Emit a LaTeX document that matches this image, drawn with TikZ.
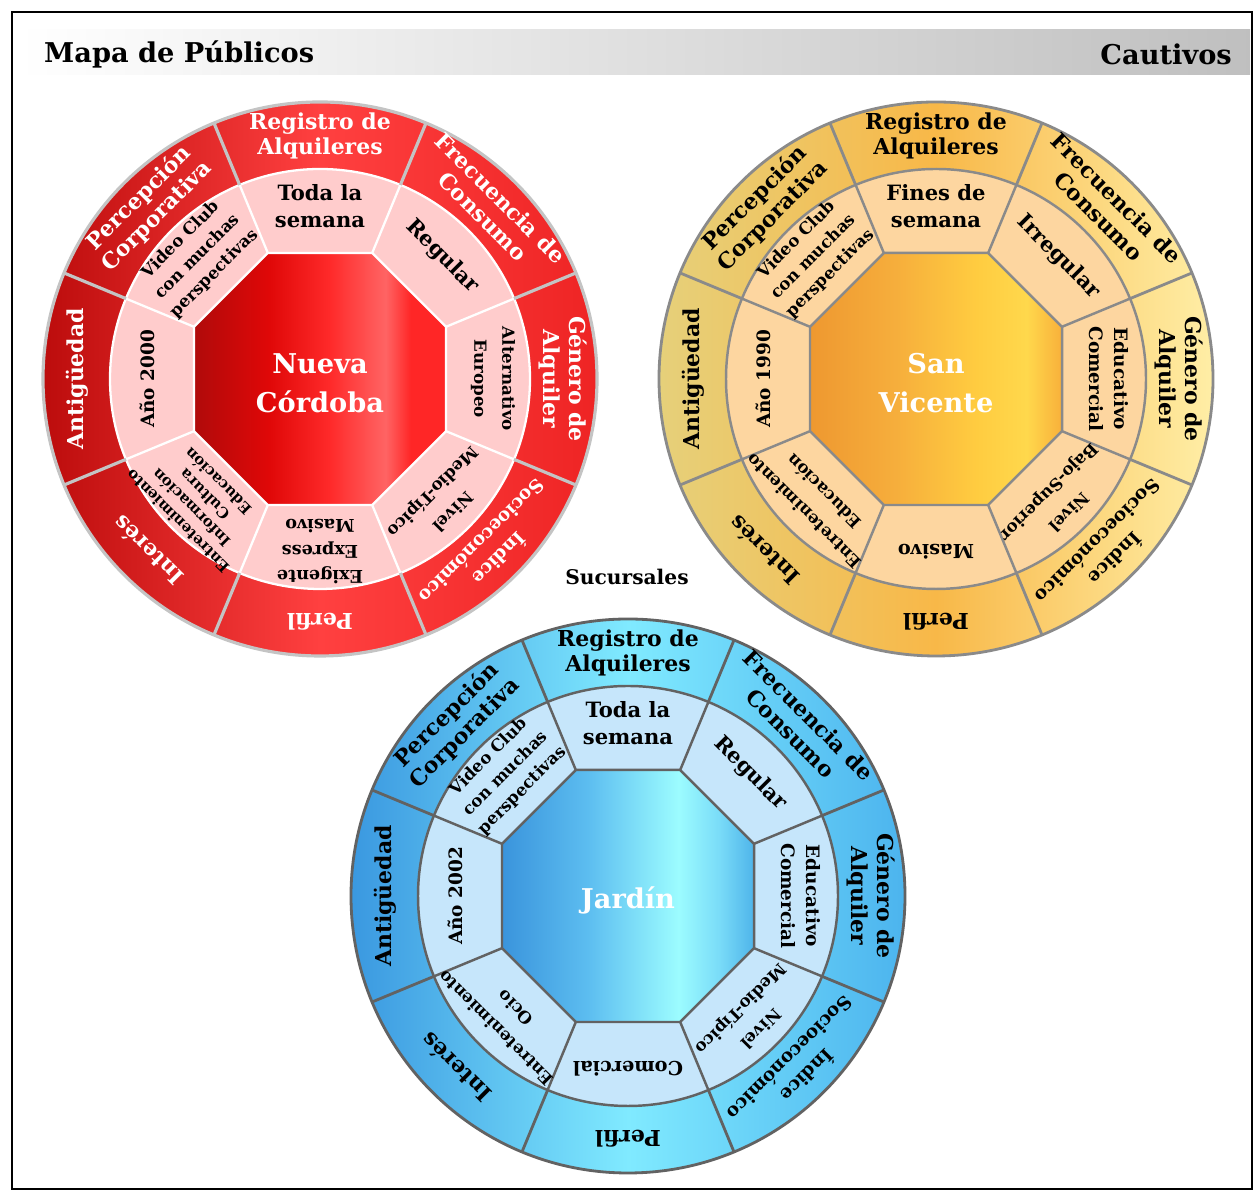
\documentclass[tikz,border=0pt]{standalone}
\usepackage{fontspec}
\setmainfont{DejaVu Serif}

\definecolor{rojoA}{HTML}{BC0C0C}
\definecolor{rojoB}{HTML}{FF4040}
\definecolor{rojoC}{HTML}{EE2424}
\definecolor{rosa}{HTML}{FFCCCC}
\definecolor{grisclaro}{HTML}{C4C4C4}
\definecolor{naranjaA}{HTML}{E6D07A}
\definecolor{naranjaB}{HTML}{F8B848}
\definecolor{naranjaC}{HTML}{FFEEA6}
\definecolor{durazno}{HTML}{FDD6A0}
\definecolor{grismed}{HTML}{8A8A8A}
\definecolor{azulA}{HTML}{3A98E0}
\definecolor{azulB}{HTML}{80EAFF}
\definecolor{azulC}{HTML}{4CB4EE}
\definecolor{celeste}{HTML}{C6E6FB}
\definecolor{grisosc}{HTML}{626262}
\definecolor{orojoA}{HTML}{B00A0A}
\definecolor{orojoB}{HTML}{E00808}
\definecolor{orojoC}{HTML}{FF2A2A}
\definecolor{orojoD}{HTML}{FF6464}
\definecolor{orojoE}{HTML}{FF2626}
\definecolor{onarA}{HTML}{EE9830}
\definecolor{onarB}{HTML}{F6AE3C}
\definecolor{onarC}{HTML}{FFCC40}
\definecolor{onarD}{HTML}{FFD84C}
\definecolor{onarE}{HTML}{F8B03A}
\definecolor{oazuA}{HTML}{3A94DC}
\definecolor{oazuB}{HTML}{5CBDF0}
\definecolor{oazuC}{HTML}{9CFCFF}
\definecolor{oazuD}{HTML}{7ADCF8}
\definecolor{oazuE}{HTML}{4EB4EA}

\pgfdeclarehorizontalshading{octrojo}{100bp}{color(0bp)=(orojoA); color(25bp)=(orojoA); color(40bp)=(orojoB); color(52bp)=(orojoC); color(63bp)=(orojoD); color(68bp)=(orojoE); color(100bp)=(orojoE)}
\pgfdeclarehorizontalshading{octnaranja}{100bp}{color(0bp)=(onarA); color(25bp)=(onarA); color(42bp)=(onarB); color(58bp)=(onarC); color(68bp)=(onarD); color(75bp)=(onarE); color(100bp)=(onarE)}
\pgfdeclarehorizontalshading{octazul}{100bp}{color(0bp)=(oazuA); color(25bp)=(oazuA); color(42bp)=(oazuB); color(60bp)=(oazuC); color(68bp)=(oazuD); color(75bp)=(oazuE); color(100bp)=(oazuE)}

\tikzset{
	txtext/.style={align=center, inner sep=0pt},
	txtmed/.style={align=center, inner sep=0pt, text=black},
	t85/.style={font=\bfseries\fontsize{8.5}{10.8}\selectfont},
	t95/.style={font=\bfseries\fontsize{9.5}{13.5}\selectfont},
	t95w/.style={font=\bfseries\fontsize{9.5}{16}\selectfont},
	t10/.style={font=\bfseries\fontsize{10}{13.5}\selectfont},
	t10x/.style={font=\bfseries\fontsize{10}{14.5}\selectfont},
	t105/.style={font=\bfseries\fontsize{10.5}{14}\selectfont},
	t11/.style={font=\bfseries\fontsize{11}{14}\selectfont},
	t12/.style={font=\bfseries\fontsize{12}{15}\selectfont},
	t125/.style={font=\bfseries\fontsize{12.5}{14.5}\selectfont},
	centro/.style={align=center, text=white, font=\bfseries\fontsize{15.5}{22}\selectfont},
}

\newcommand{\exteriores}{90/t125/{Registro de\\Alquileres}, 45/t125/{Frecuencia de\\Consumo}, 0/t125/{Género de\\Alquiler}, -45/t105/{Índice\\Socioeconómico}, -90/t125/Perfil, -135/t125/Interés, 180/t125/Antigüedad, 135/t125/{Percepción\\Corporativa}}

% one wheel: #1 name, #2 centre text, #3 middle ring labels
\newcommand{\rueda}[3]{%
	\shade[anillo] (0,0) circle (277);
	\fill[medio] (0,0) circle (210);
	\shade[nucleo] (22.5:136.4) \foreach \k in {1,...,7}{ -- ({22.5+45*\k}:136.4)} -- cycle;
	\draw[lineamed] (22.5:136.4) \foreach \k in {1,...,7}{ -- ({22.5+45*\k}:136.4)} -- cycle;
	\draw[lineamed] (0,0) circle (210);
	\foreach \a in {22.5,67.5,...,337.5} {
		\draw[lineamed] (\a:136.4) -- (\a:210);
		\draw[lineaext] (\a:210) -- (\a:277);
	}
	\draw[lineaext] (0,0) circle (277);
	\foreach \a/\tam/\txt [count=\i] in \exteriores
		\node[txtext, \tam, rotate=\a-90] (#1-ext-\i) at (\a:243) {\txt};
	\foreach \a/\tam/\txt [count=\i] in {#3}
		\node[txtmed, \tam, rotate=\a-90] (#1-med-\i) at (\a:173) {\txt};
	\node[centro] (#1-centro) at (0,-4) {#2};
}

\begin{document}
\begin{tikzpicture}[x=0.02cm, y=0.02cm]
	\useasboundingbox (0,0) rectangle (1258,1192);
	\fill[white] (0,0) rectangle (1258,1192);
	\draw[line width=1.2pt] (12,3) rectangle (1252,1180);
	\shade[left color=white, right color=black!25] (18,1117) rectangle (1250,1162);
	\node[anchor=west, font=\bfseries\fontsize{15.5}{18}\selectfont] (titulo) at (38,1138) {Mapa de Públicos};
	\node[anchor=east, font=\bfseries\fontsize{15.5}{18}\selectfont] (cautivos) at (1238,1138) {Cautivos};
	\node[font=\bfseries\fontsize{11.5}{14}\selectfont] (sucursales) at (627,615) {Sucursales};

	% Nueva Cordoba
	\begin{scope}[shift={(320,813)},
		anillo/.style={left color=rojoA, right color=rojoC, middle color=rojoB},
		medio/.style={fill=rosa},
		nucleo/.style={shading=octrojo},
		lineamed/.style={draw=white, line width=1.3pt},
		lineaext/.style={draw=grisclaro, line width=1.8pt},
		txtext/.append style={text=white}]
		\rueda{rojo}{Nueva\\Córdoba}{90/t12/{Toda la\\semana}, 45/t12/Regular, 0/t95w/{Alternativo\\Europeo}, -45/t95w/{Nivel\\Medio-Típico}, -90/t10x/{Exigente\\Express\\Masivo}, -135/t85/{Entretenimiento\\Información\\Cultura\\Educación}, 180/t105/{Año 2000}, 135/t95/{Video Club\\con muchas\\perspectivas}}
	\end{scope}

	% San Vicente
	\begin{scope}[shift={(936,813)},
		anillo/.style={left color=naranjaA, right color=naranjaC, middle color=naranjaB},
		medio/.style={fill=durazno},
		nucleo/.style={shading=octnaranja},
		lineamed/.style={draw=grismed, line width=1.4pt},
		lineaext/.style={draw=grismed, line width=1.6pt},
		txtext/.append style={text=black}]
		\rueda{naranja}{San\\Vicente}{90/t12/{Fines de\\semana}, 45/t12/Irregular, 0/t105/{Educativo\\Comercial}, -45/t95w/{Nivel\\Bajo-Superior}, -90/t11/Masivo, -135/t95w/{Entretenimiento\\Educación}, 180/t105/{Año 1990}, 135/t95/{Video Club\\con muchas\\perspectivas}}
	\end{scope}

	% Jardin
	\begin{scope}[shift={(628,296)},
		anillo/.style={left color=azulA, right color=azulC, middle color=azulB},
		medio/.style={fill=celeste},
		nucleo/.style={shading=octazul},
		lineamed/.style={draw=grisosc, line width=1.4pt},
		lineaext/.style={draw=grisosc, line width=1.6pt},
		txtext/.append style={text=black}]
		\rueda{azul}{Jardín}{90/t12/{Toda la\\semana}, 45/t12/Regular, 0/t105/{Educativo\\Comercial}, -45/t95w/{Nivel\\Medio-Típico}, -90/t11/Comercial, -135/t95w/{Entretenimiento\\Ocio}, 180/t105/{Año 2002}, 135/t95/{Video Club\\con muchas\\perspectivas}}
	\end{scope}
\end{tikzpicture}
\end{document}
